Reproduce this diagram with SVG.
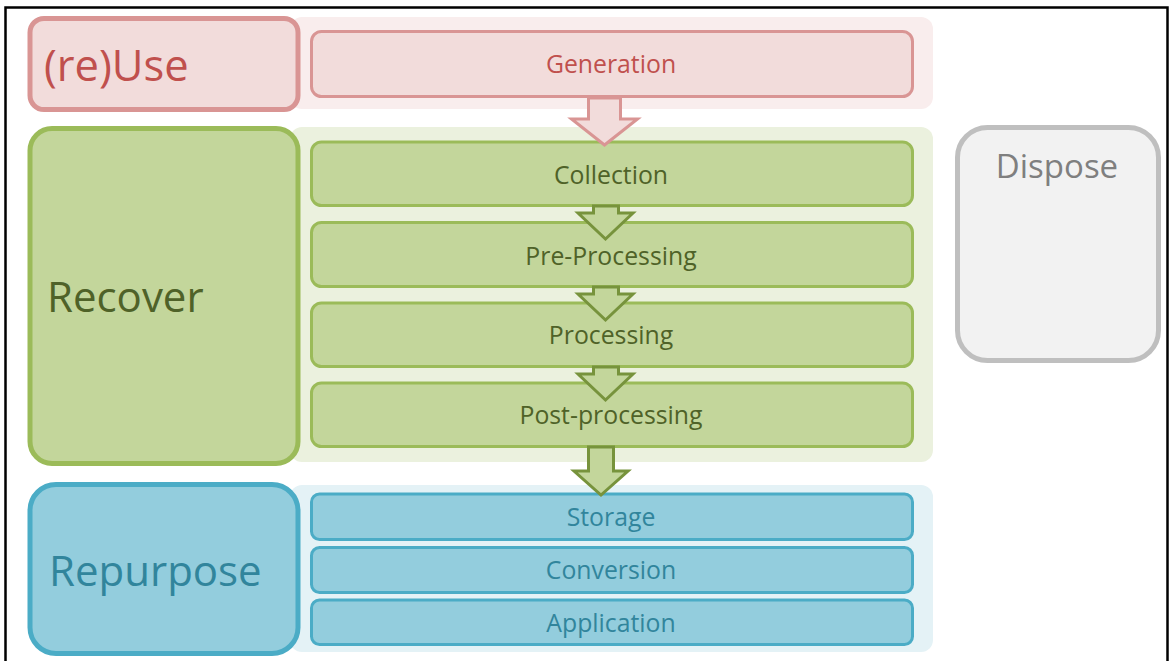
<svg xmlns="http://www.w3.org/2000/svg" width="1170" height="661" viewBox="0 0 1170 661">
  <style>
    text { font-family: "Open Sans", "Noto Sans", sans-serif; text-anchor: middle; }
    .big { font-size: 42px; text-anchor: start; }
    .sub { font-size: 24.8px; }
    .red-main { fill: #f2dcdb; stroke: #d99594; stroke-width: 5; }
    .red-sub { fill: #f2dcdb; stroke: #d99594; stroke-width: 3; }
    .red-txt { fill: #c0504d; }
    .grn-main { fill: #c3d69b; stroke: #9bbb59; stroke-width: 5; }
    .grn-sub { fill: #c3d69b; stroke: #9bbb59; stroke-width: 3; }
    .grn-txt { fill: #4f6228; }
    .blu-main { fill: #93cddd; stroke: #4bacc6; stroke-width: 5; }
    .blu-sub { fill: #93cddd; stroke: #4bacc6; stroke-width: 3; }
    .blu-txt { fill: #31859c; }
    .arrow-red { fill: #f2dcdb; stroke: #d99594; stroke-width: 3; stroke-linejoin: miter; }
    .arrow-grn { fill: #c3d69b; stroke: #77933c; stroke-width: 3; stroke-linejoin: miter; }
  </style>

  <rect x="0" y="0" width="1170" height="661" fill="#ffffff"/>
  <!-- frame -->
  <rect x="5.5" y="7.5" width="1162" height="700" fill="none" stroke="#000" stroke-width="2.5"/>

  <!-- background bands -->
  <g id="bands">
    <rect x="290" y="17" width="643" height="92" rx="12" fill="#f9eded"/>
    <rect x="290" y="127" width="643" height="335" rx="12" fill="#ebf1de"/>
    <rect x="290" y="485" width="643" height="167" rx="12" fill="#e4f2f6"/>
  </g>

  <!-- (re)Use stage -->
  <g id="reuse">
    <rect class="red-main" x="30" y="18.5" width="268" height="91" rx="14"/>
    <text class="big red-txt" x="44" y="81" style="font-size:43.5px">(re)Use</text>
  </g>
  <g id="generation">
    <rect class="red-sub" x="311.5" y="31.5" width="601" height="65" rx="10"/>
    <text class="sub red-txt" x="611" y="73">Generation</text>
  </g>

  <!-- Recover stage -->
  <g id="recover">
    <rect class="grn-main" x="30" y="128.5" width="268" height="335" rx="22"/>
    <text class="big grn-txt" x="47" y="312">Recover</text>
  </g>
  <g id="collection">
    <rect class="grn-sub" x="311.5" y="142" width="601" height="63.5" rx="10"/>
    <text class="sub grn-txt" x="611" y="184">Collection</text>
  </g>
  <g id="pre-processing">
    <rect class="grn-sub" x="311.5" y="222.5" width="601" height="64" rx="10"/>
    <text class="sub grn-txt" x="611" y="265">Pre-Processing</text>
  </g>
  <g id="processing">
    <rect class="grn-sub" x="311.5" y="303" width="601" height="63.5" rx="10"/>
    <text class="sub grn-txt" x="611" y="344">Processing</text>
  </g>
  <g id="post-processing">
    <rect class="grn-sub" x="311.5" y="383" width="601" height="63.5" rx="10"/>
    <text class="sub grn-txt" x="611" y="424">Post-processing</text>
  </g>

  <!-- Repurpose stage -->
  <g id="repurpose">
    <rect class="blu-main" x="30" y="484.5" width="268" height="169" rx="26"/>
    <text class="big blu-txt" x="49" y="586">Repurpose</text>
  </g>
  <g id="storage">
    <rect class="blu-sub" x="311.5" y="494" width="601" height="45.5" rx="8"/>
    <text class="sub blu-txt" x="611" y="526">Storage</text>
  </g>
  <g id="conversion">
    <rect class="blu-sub" x="311.5" y="547.5" width="601" height="45" rx="8"/>
    <text class="sub blu-txt" x="611" y="579">Conversion</text>
  </g>
  <g id="application">
    <rect class="blu-sub" x="311.5" y="600" width="601" height="44.5" rx="8"/>
    <text class="sub blu-txt" x="611" y="632">Application</text>
  </g>

  <!-- Dispose stage -->
  <g id="dispose">
    <rect x="957.5" y="127.5" width="201" height="233" rx="30" fill="#f2f2f2" stroke="#bfbfbf" stroke-width="5"/>
    <text x="1057" y="178" font-size="33" fill="#7f7f7f">Dispose</text>
  </g>

  <!-- block arrows between steps -->
  <g id="connectors">
    <polygon class="arrow-red" points="588.5,98 620.5,98 620.5,119 637.5,119 604.5,145 571.5,119 588.5,119"/>
    <polygon class="arrow-grn" points="593.5,206 618.5,206 618.5,213 633,213 605.5,239 578,213 593.5,213"/>
    <polygon class="arrow-grn" points="593.5,287 618.5,287 618.5,294 633,294 605.5,320 578,294 593.5,294"/>
    <polygon class="arrow-grn" points="593.5,367 618.5,367 618.5,374 633,374 605.5,400 578,374 593.5,374"/>
    <polygon class="arrow-grn" points="588.5,447 613.5,447 613.5,471 628,471 601,495 574,471 588.5,471"/>
  </g>
</svg>
